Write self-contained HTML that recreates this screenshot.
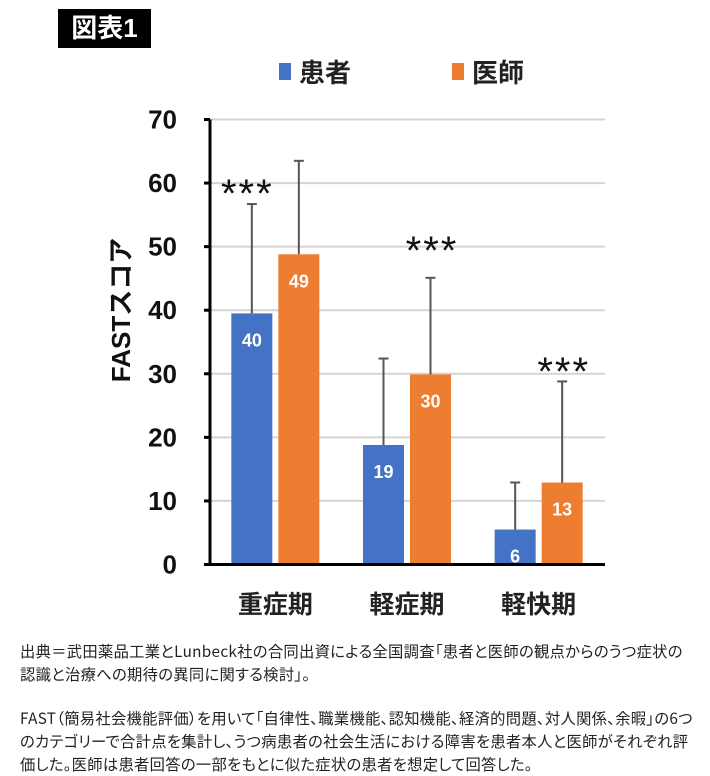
<!DOCTYPE html>
<html><head><meta charset="utf-8"><style>
body{margin:0;width:710px;height:773px;background:#fff;overflow:hidden;font-family:"Liberation Sans","Noto Sans CJK JP",sans-serif;position:relative}
.t{position:absolute;color:#222;font-size:15.3px;line-height:23px;left:20px;white-space:nowrap;font-family:"Noto Sans CJK JP",sans-serif;letter-spacing:0.3px;font-feature-settings:"palt"}
</style></head><body>
<div style="position:absolute;left:58px;top:9px;width:93px;height:39px;background:#000;color:#fff;font:bold 26px 'Liberation Sans','Noto Sans CJK JP',sans-serif;line-height:39px;text-align:center">図表1</div>
<svg id="c" width="710" height="630" style="position:absolute;left:0;top:0" font-family="Liberation Sans, Noto Sans CJK JP, sans-serif"></svg>
<div class="t" style="top:640px">出典＝武田薬品工業とLunbeck社の合同出資による全国調査「患者と医師の観点からのうつ症状の<br>認識と治療への期待の異同に関する検討」。</div>
<div class="t" style="top:707px">FAST（簡易社会機能評価）を用いて「自律性、職業機能、認知機能、経済的問題、対人関係、余暇」の6つ<br>のカテゴリーで合計点を集計し、うつ病患者の社会生活における障害を患者本人と医師がそれぞれ評<br>価した。医師は患者回答の一部をもとに似た症状の患者を想定して回答した。</div>
<script>
const categories=["重症期","軽症期","軽快期"];
const patientValues=[39.5,18.8,5.5];
const doctorValues=[48.8,29.9,12.9];
const patientLabels=["40","19","6"];
const doctorLabels=["49","30","13"];
const patientErrTop=[56.7,32.4,12.9];
const doctorErrTop=[63.5,45.1,28.8];
const yTicks=[0,10,20,30,40,50,60,70];
const sig=["***","***","***"];
const ns="http://www.w3.org/2000/svg",svg=document.getElementById('c');
const X0=210,X1=605,Y0=564.5,YT=119.5,YMAX=70;
const y=v=>Y0-(v/YMAX)*(Y0-YT);
const gw=(X1-X0)/3;
const gc=i=>X0+gw*(i+0.5)-0.5;
function mk(t,a,txt){const e=document.createElementNS(ns,t);for(const k in a)e.setAttribute(k,a[k]);if(txt!=null)e.textContent=txt;svg.appendChild(e);return e;}
yTicks.forEach(v=>{
 if(v>0){const g=mk('line',{x1:X0,x2:X1,y1:y(v),y2:y(v),stroke:'#d4d4d4','stroke-width':2});}
 mk('line',{x1:X0-6,x2:X0,y1:y(v),y2:y(v),stroke:'#000','stroke-width':3});
 const l=mk('text',{x:177,y:y(v)+9,'text-anchor':'end','font-size':26,'font-weight':'bold',fill:'#111'},v);
 
});
const bw=41;
categories.forEach((c,i)=>{
 const cx=gc(i);
 [[patientValues,patientErrTop,patientLabels,'#4472c4',cx-bw-3,'patient'],[doctorValues,doctorErrTop,doctorLabels,'#ed7d31',cx+3,'doctor']].forEach(([vals,err,labs,col,bx,nm])=>{
  const r=mk('rect',{x:bx,y:y(vals[i]),width:bw,height:Y0-y(vals[i]),fill:col});
  
  const ex=bx+bw/2;
  mk('line',{x1:ex,x2:ex,y1:y(err[i]),y2:y(vals[i]),stroke:'#555','stroke-width':2});
  mk('line',{x1:ex-5,x2:ex+5,y1:y(err[i]),y2:y(err[i]),stroke:'#555','stroke-width':2});
  const t=mk('text',{x:ex,y:y(vals[i])+33,'text-anchor':'middle','font-size':18,'font-weight':'bold',fill:'#fff'},labs[i]);
  
 });
 const s=mk('text',{x:i==0?cx-28:cx+25,y:i==0?207:(i==1?264:385),'text-anchor':'middle','font-size':40,fill:'#111','letter-spacing':'2'},sig[i]);
 
 const cl=mk('text',{x:cx,y:613,'text-anchor':'middle','font-size':25,'font-weight':'bold',fill:'#222','font-family':'Noto Sans CJK JP, sans-serif'},c);
 
});
mk('line',{x1:X0,x2:X0,y1:YT,y2:Y0+1.5,stroke:'#000','stroke-width':3});
mk('line',{x1:X0,x2:X1,y1:Y0,y2:Y0,stroke:'#000','stroke-width':3});
const yt=mk('text',{x:0,y:0,transform:'translate(130,310) rotate(-90)','text-anchor':'middle','font-size':26,'font-weight':'bold',fill:'#111'},'FASTスコア');

const l1=mk('rect',{x:279,y:63,width:12,height:17,fill:'#4472c4'});
const lt1=mk('text',{x:299,y:82,'font-size':26,'font-weight':'bold',fill:'#222','font-family':'Noto Sans CJK JP, sans-serif'},'患者');
const l2=mk('rect',{x:452,y:63,width:12,height:17,fill:'#ed7d31'});
const lt2=mk('text',{x:472,y:82,'font-size':26,'font-weight':'bold',fill:'#222','font-family':'Noto Sans CJK JP, sans-serif'},'医師');
</script>
</body></html>
